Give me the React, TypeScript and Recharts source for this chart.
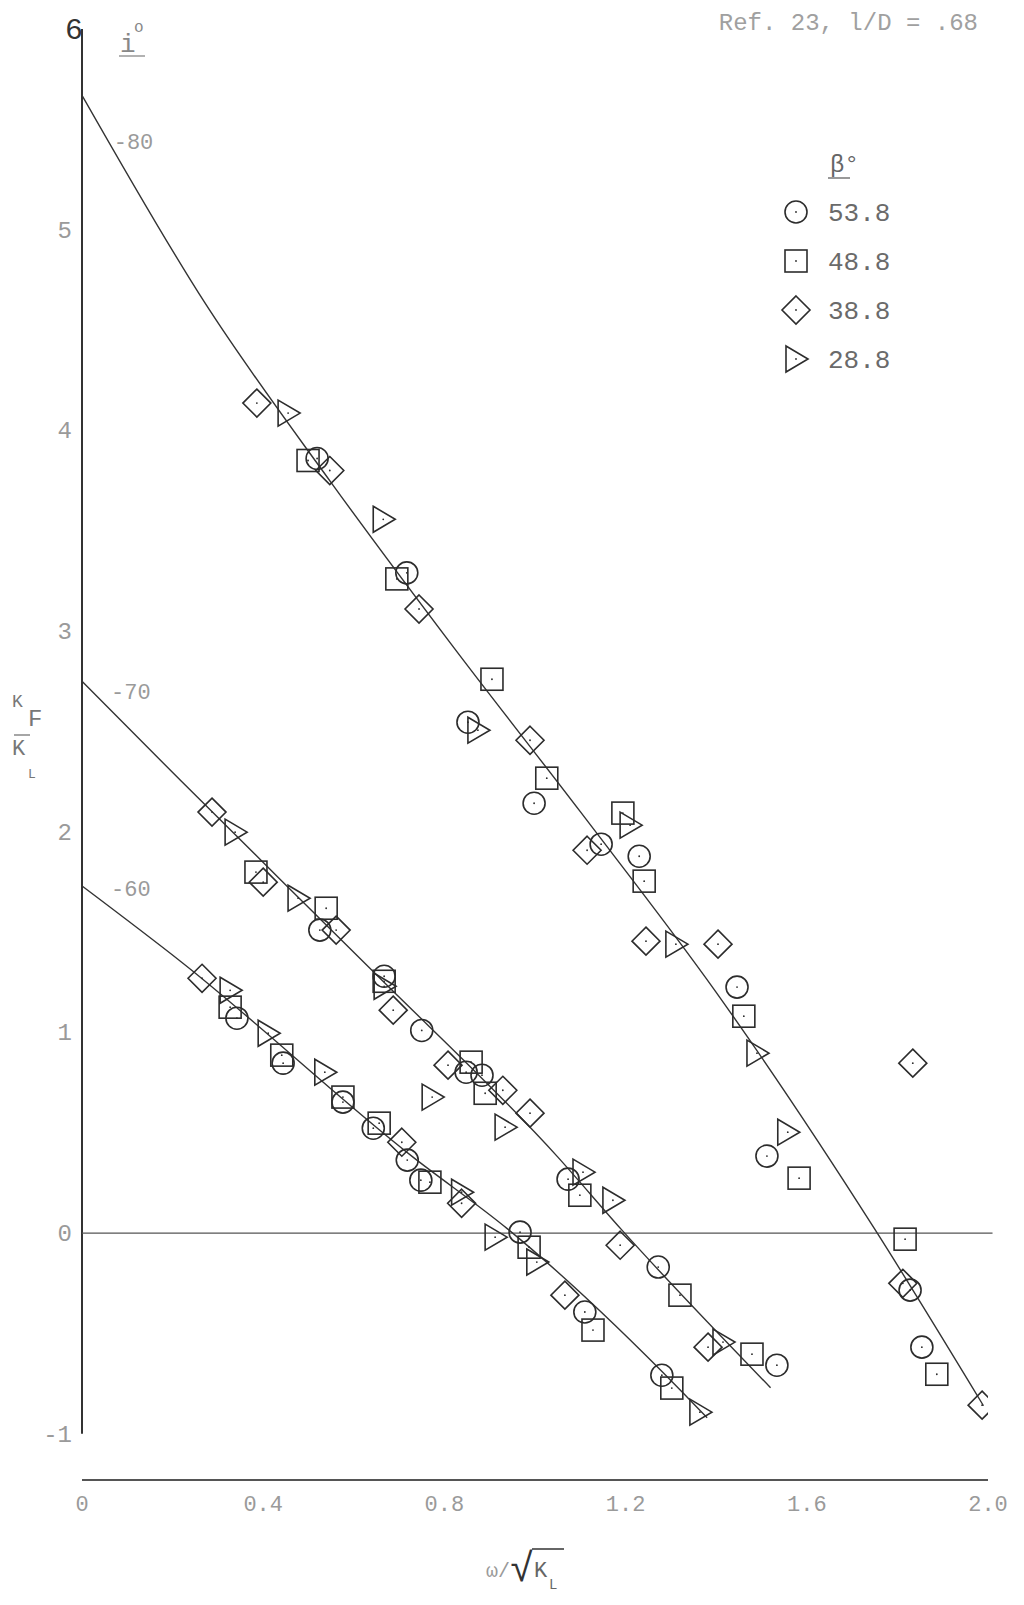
import React from 'react';
import {
  ComposedChart,
  Line,
  Scatter,
  XAxis,
  YAxis,
  ReferenceLine,
  ReferenceDot,
  Legend,
} from 'recharts';

// axis ticks
const xTicks = [0, 0.4, 0.8, 1.2, 1.6, 2.0];
const yTicks = [-1, 0, 1, 2, 3, 4, 5, 6];

// faired curves, one per i (deg)
const curve80 = [
  { x: 0, y: 5.67 },
  { x: 0.27, y: 4.64 },
  { x: 0.55, y: 3.74 },
  { x: 0.82, y: 2.92 },
  { x: 1.1, y: 2.1 },
  { x: 1.4, y: 1.2 },
  { x: 1.75, y: 0.02 },
  { x: 1.99, y: -0.86 },
];
const curve70 = [
  { x: 0, y: 2.75 },
  { x: 0.22, y: 2.25 },
  { x: 0.64, y: 1.31 },
  { x: 1.05, y: 0.38 },
  { x: 1.19, y: 0.02 },
  { x: 1.52, y: -0.77 },
];
const curve60 = [
  { x: 0, y: 1.73 },
  { x: 0.22, y: 1.35 },
  { x: 0.73, y: 0.38 },
  { x: 0.94, y: 0.02 },
  { x: 1.32, y: -0.78 },
  { x: 1.38, y: -0.92 },
];

const curveLabels = [
  { x: 0.07, y: 5.44, text: '-80' },
  { x: 0.064, y: 2.7, text: '-70' },
  { x: 0.064, y: 1.72, text: '-60' },
];

// test points by beta (deg)
const beta538 = [
  { x: 0.519, y: 3.86 }, { x: 0.717, y: 3.29 }, { x: 0.852, y: 2.546 }, { x: 0.998, y: 2.142 },
  { x: 1.146, y: 1.938 }, { x: 1.23, y: 1.878 }, { x: 1.446, y: 1.226 }, { x: 1.512, y: 0.384 },
  { x: 1.828, y: -0.284 }, { x: 1.854, y: -0.568 },
  { x: 0.525, y: 1.51 }, { x: 0.667, y: 1.28 }, { x: 0.75, y: 1.01 }, { x: 0.848, y: 0.802 },
  { x: 0.883, y: 0.787 }, { x: 1.073, y: 0.269 }, { x: 1.272, y: -0.169 }, { x: 1.534, y: -0.658 },
  { x: 0.342, y: 1.071 }, { x: 0.444, y: 0.847 }, { x: 0.576, y: 0.653 }, { x: 0.643, y: 0.523 },
  { x: 0.718, y: 0.364 }, { x: 0.748, y: 0.264 }, { x: 0.967, y: 0.005 }, { x: 1.11, y: -0.393 },
  { x: 1.28, y: -0.708 },
];
const beta488 = [
  { x: 0.499, y: 3.85 }, { x: 0.695, y: 3.26 }, { x: 0.905, y: 2.76 }, { x: 1.026, y: 2.267 },
  { x: 1.194, y: 2.093 }, { x: 1.241, y: 1.754 }, { x: 1.461, y: 1.081 }, { x: 1.583, y: 0.274 },
  { x: 1.817, y: -0.03 }, { x: 1.887, y: -0.703 },
  { x: 0.384, y: 1.799 }, { x: 0.539, y: 1.619 }, { x: 0.667, y: 1.255 }, { x: 0.859, y: 0.852 },
  { x: 0.89, y: 0.697 }, { x: 1.099, y: 0.189 }, { x: 1.32, y: -0.309 }, { x: 1.479, y: -0.603 },
  { x: 0.327, y: 1.126 }, { x: 0.441, y: 0.887 }, { x: 0.576, y: 0.678 }, { x: 0.656, y: 0.548 },
  { x: 0.768, y: 0.254 }, { x: 0.987, y: -0.07 }, { x: 1.128, y: -0.483 }, { x: 1.302, y: -0.772 },
];
const beta388 = [
  { x: 0.386, y: 4.136 }, { x: 0.547, y: 3.8 }, { x: 0.744, y: 3.11 }, { x: 0.989, y: 2.456 },
  { x: 1.115, y: 1.908 }, { x: 1.245, y: 1.455 }, { x: 1.404, y: 1.44 }, { x: 1.834, y: 0.847 },
  { x: 1.812, y: -0.25 }, { x: 1.987, y: -0.857 },
  { x: 0.287, y: 2.098 }, { x: 0.4, y: 1.749 }, { x: 0.561, y: 1.51 }, { x: 0.687, y: 1.111 },
  { x: 0.808, y: 0.837 }, { x: 0.929, y: 0.712 }, { x: 0.989, y: 0.598 }, { x: 1.188, y: -0.06 },
  { x: 1.382, y: -0.568 },
  { x: 0.265, y: 1.27 }, { x: 0.706, y: 0.453 }, { x: 0.838, y: 0.149 }, { x: 1.066, y: -0.309 },
];
const beta288 = [
  { x: 0.455, y: 4.086 }, { x: 0.665, y: 3.557 }, { x: 0.874, y: 2.506 }, { x: 1.21, y: 2.033 },
  { x: 1.311, y: 1.44 }, { x: 1.49, y: 0.897 }, { x: 1.558, y: 0.503 },
  { x: 0.338, y: 1.998 }, { x: 0.477, y: 1.669 }, { x: 0.667, y: 1.23 }, { x: 0.773, y: 0.678 },
  { x: 0.934, y: 0.528 }, { x: 1.106, y: 0.304 }, { x: 1.172, y: 0.164 }, { x: 1.415, y: -0.543 },
  { x: 0.327, y: 1.21 }, { x: 0.411, y: 0.996 }, { x: 0.536, y: 0.802 }, { x: 0.838, y: 0.204 },
  { x: 0.912, y: -0.02 }, { x: 1.004, y: -0.144 }, { x: 1.364, y: -0.892 },
];

const INK = '#2c2c2c';
const FAINT = '#9a9a9a';
const MONO = '"Liberation Mono", "DejaVu Sans Mono", monospace';

type MarkProps = { cx?: number; cy?: number };

const CircleMark = ({ cx = 0, cy = 0 }: MarkProps) => (
  <g>
    <circle cx={cx} cy={cy} r={11} fill="none" stroke={INK} strokeWidth={1.6} />
    <circle cx={cx} cy={cy} r={0.9} fill={INK} />
  </g>
);
const SquareMark = ({ cx = 0, cy = 0 }: MarkProps) => (
  <g>
    <rect x={cx - 11} y={cy - 11} width={22} height={22} fill="none" stroke={INK} strokeWidth={1.6} />
    <circle cx={cx} cy={cy} r={0.9} fill={INK} />
  </g>
);
const DiamondMark = ({ cx = 0, cy = 0 }: MarkProps) => (
  <g>
    <path
      d={`M${cx} ${cy - 14}L${cx + 14} ${cy}L${cx} ${cy + 14}L${cx - 14} ${cy}Z`}
      fill="none"
      stroke={INK}
      strokeWidth={1.6}
    />
    <circle cx={cx} cy={cy} r={0.9} fill={INK} />
  </g>
);
const TriangleMark = ({ cx = 0, cy = 0 }: MarkProps) => (
  <g>
    <path
      d={`M${cx - 10} ${cy - 13}L${cx + 12} ${cy}L${cx - 10} ${cy + 13}Z`}
      fill="none"
      stroke={INK}
      strokeWidth={1.6}
    />
    <circle cx={cx} cy={cy} r={0.9} fill={INK} />
  </g>
);

const series = [
  { name: '53.8', data: beta538, Mark: CircleMark },
  { name: '48.8', data: beta488, Mark: SquareMark },
  { name: '38.8', data: beta388, Mark: DiamondMark },
  { name: '28.8', data: beta288, Mark: TriangleMark },
];

const LegendBox = () => (
  <svg width={150} height={250}>
    <text x={60} y={44} fontFamily={MONO} fontSize={24} fill="#666">
      β°
    </text>
    <line x1={58} y1={50} x2={80} y2={50} stroke="#777" strokeWidth={1.5} />
    {series.map((s, i) => {
      const cy = 84 + i * 49;
      return (
        <g key={s.name}>
          <s.Mark cx={26} cy={cy} />
          <text x={58} y={cy + 9} fontFamily={MONO} fontSize={26} fill="#6a6a6a">
            {s.name}
          </text>
        </g>
      );
    })}
  </svg>
);

const YTick = (props: any) => {
  const { x, y, payload } = props;
  const v = payload.value;
  if (v === 6) {
    return (
      <text x={x + 2} y={y + 10} textAnchor="middle" fontFamily={MONO} fontSize={30} fill="#333">
        6
      </text>
    );
  }
  return (
    <text x={x} y={y + 8} textAnchor="end" fontFamily={MONO} fontSize={24} fill={FAINT}>
      {String(v)}
    </text>
  );
};

const XLabel = (props: any) => {
  const { viewBox } = props;
  const cx = viewBox.x + 440;
  const y = viewBox.y + 97;
  return (
    <g fontFamily={MONO}>
      <text x={cx - 36} y={y} fontSize={20} fill={FAINT}>
        ω/
      </text>
      <text x={cx - 12} y={y + 4} fontSize={40} fill="#333">
        √
      </text>
      <line x1={cx + 10} y1={y - 28} x2={cx + 42} y2={y - 28} stroke="#333" strokeWidth={1.5} />
      <text x={cx + 12} y={y} fontSize={22} fill="#666">
        K
      </text>
      <text x={cx + 27} y={y + 12} fontSize={14} fill="#666">
        L
      </text>
    </g>
  );
};

const YLabel = () => (
  <g fontFamily={MONO} fill="#777">
    <text x={12} y={707} fontSize={18}>K</text>
    <text x={28} y={726} fontSize={24}>F</text>
    <line x1={14} y1={735} x2={30} y2={735} stroke="#888" strokeWidth={1.5} />
    <text x={12} y={755} fontSize={22}>K</text>
    <text x={28} y={778} fontSize={13}>L</text>
  </g>
);

export default function App() {
  return (
    <div style={{ position: 'absolute', left: 0, top: 0, width: 1024, height: 1605, background: '#fff' }}>
      <ComposedChart width={1024} height={1605} margin={{ top: 29, right: 36, bottom: 85, left: 20 }}>
        <XAxis
          type="number"
          dataKey="x"
          domain={[0, 2]}
          ticks={xTicks}
          allowDataOverflow
          tickFormatter={(v: number) => (v === 0 ? '0' : v.toFixed(1))}
          axisLine={{ stroke: '#555', strokeWidth: 2 }}
          tickLine={false}
          tickMargin={9}
          height={40}
          tick={{ fontFamily: MONO, fontSize: 22, fill: FAINT }}
          label={<XLabel />}
        />
        <YAxis
          type="number"
          dataKey="y"
          domain={[-1.23, 6]}
          ticks={yTicks}
          allowDataOverflow
          axisLine={false}
          tickLine={false}
          tickSize={0}
          tickMargin={10}
          width={62}
          tick={<YTick />}
          label={<YLabel />}
        />
        <ReferenceLine
          segment={[{ x: 0, y: -1 }, { x: 0, y: 6 }]}
          stroke="#333"
          strokeWidth={2}
          ifOverflow="visible"
        />
        <ReferenceLine
          segment={[{ x: 0, y: 0 }, { x: 2.01, y: 0 }]}
          stroke="#555"
          strokeWidth={1.2}
          ifOverflow="visible"
        />
        {[curve80, curve70, curve60].map((c, i) => (
          <Line
            key={i}
            data={c}
            dataKey="y"
            type="monotone"
            stroke="#333"
            strokeWidth={1.4}
            dot={false}
            activeDot={false}
            legendType="none"
            isAnimationActive={false}
          />
        ))}
        {series.map((s) => (
          <Scatter
            key={s.name}
            name={s.name}
            data={s.data}
            shape={(p: any) => <s.Mark cx={p.cx} cy={p.cy} />}
            isAnimationActive={false}
          />
        ))}
        {curveLabels.map((l) => (
          <ReferenceDot
            key={l.text}
            x={l.x}
            y={l.y}
            r={0}
            stroke="none"
            fill="none"
            label={{
              value: l.text,
              position: 'right',
              offset: 0,
              fontFamily: MONO,
              fontSize: 22,
              fill: FAINT,
            }}
          />
        ))}
        <Legend
          layout="vertical"
          align="center"
          verticalAlign="middle"
          wrapperStyle={{ left: 770, top: 128, width: 150, height: 250 }}
          content={() => <LegendBox />}
        />
      </ComposedChart>
      <svg
        width={1024}
        height={80}
        style={{ position: 'absolute', left: 0, top: 0, pointerEvents: 'none' }}
      >
        <text x={978} y={30} textAnchor="end" fontFamily={MONO} fontSize={24} fill="#a0a0a0">
          Ref. 23,  l/D = .68
        </text>
        <text x={120} y={52} fontFamily={MONO} fontSize={26} fill="#888">
          i
        </text>
        <text x={134} y={32} fontFamily={MONO} fontSize={16} fill="#888">
          o
        </text>
        <line x1={119} y1={56} x2={145} y2={56} stroke="#999" strokeWidth={1.5} />
      </svg>
    </div>
  );
}
